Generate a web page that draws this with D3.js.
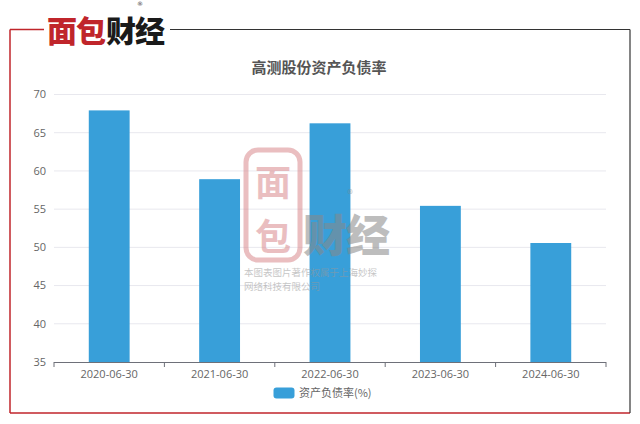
<!DOCTYPE html>
<html><head><meta charset="utf-8">
<script src="https://cdn.jsdelivr.net/npm/d3@7"></script>
<style>
html,body{margin:0;padding:0;background:#fff;}
svg{display:block;font-family:"Noto Sans CJK SC","Microsoft YaHei",sans-serif;}
</style></head>
<body>
<svg id="chart" width="640" height="424"></svg>
<script>
const categories = ["2020-06-30","2021-06-30","2022-06-30","2023-06-30","2024-06-30"];
const values = [67.92, 58.92, 66.23, 55.43, 50.57];
const yTicks = [35,40,45,50,55,60,65,70];
const title = "高测股份资产负债率";
const seriesName = "资产负债率(%)";

const svg = d3.select("#chart");
const margin = {left:54, right:606, top:94.5, bottom:362};

// frame
svg.append("line").attr("x1",10).attr("y1",29.5).attr("x2",10).attr("y2",413).attr("stroke","#c0252b").attr("stroke-width",1.5);
svg.append("line").attr("x1",10).attr("y1",413).attr("x2",630).attr("y2",413).attr("stroke","#c0252b").attr("stroke-width",1.5);
svg.append("line").attr("x1",630).attr("y1",29.5).attr("x2",630).attr("y2",413).attr("stroke","#333").attr("stroke-width",1.2);
svg.append("line").attr("x1",10).attr("y1",29.5).attr("x2",44).attr("y2",29.5).attr("stroke","#c0252b").attr("stroke-width",1.5);
svg.append("line").attr("x1",170).attr("y1",29.5).attr("x2",630).attr("y2",29.5).attr("stroke","#333").attr("stroke-width",1.2);

// logo
const logo = svg.append("g");
logo.append("text").attr("x",47).attr("y",42).attr("font-size",30).attr("font-weight",900)
  .attr("fill","#c0252b").attr("letter-spacing",-1).text("面包");
logo.append("text").attr("x",106).attr("y",42).attr("font-size",30).attr("font-weight",900)
  .attr("fill","#1a1a1a").attr("letter-spacing",-1).text("财经");
logo.append("text").attr("x",140).attr("y",5.8).attr("font-size",6).attr("font-family","'DejaVu Sans',sans-serif")
  .attr("fill","#333").attr("text-anchor","middle").text("®");

const x = d3.scaleBand().domain(categories).range([margin.left, margin.right]).paddingInner(0.63).paddingOuter(0.315);
const xTickScale = d3.scaleLinear().domain([0,categories.length]).range([margin.left, margin.right]);
const y = d3.scaleLinear().domain([35,70]).range([margin.bottom, margin.top]);

// gridlines
svg.append("g").selectAll("line").data(yTicks.filter(d=>d>35)).join("line")
  .attr("x1",margin.left).attr("x2",margin.right)
  .attr("y1",d=>y(d)).attr("y2",d=>y(d))
  .attr("stroke","#e8e8ee").attr("stroke-width",1);

// y labels
svg.append("g").selectAll("text").data(yTicks).join("text")
  .attr("x",46).attr("y",d=>y(d)).attr("dy","0.35em").attr("text-anchor","end")
  .attr("font-size",11).attr("fill","#666").attr("font-family","'Open Sans','Noto Sans',sans-serif").text(d=>d);

// bars
svg.append("g").selectAll("rect").data(values).join("rect")
  .attr("x",(d,i)=>x(categories[i])).attr("width",x.bandwidth())
  .attr("y",d=>y(d)).attr("height",d=>y(35)-y(d))
  .attr("fill","#389fd9");

// watermark
const wm = svg.append("g").attr("opacity",0.55);
wm.append("rect").attr("x",246).attr("y",150).attr("width",54).attr("height",110).attr("rx",12)
  .attr("fill","none").attr("stroke","#d98a8e").attr("stroke-width",5);
wm.append("text").attr("x",273).attr("y",196).attr("text-anchor","middle").attr("font-size",36).attr("font-weight",700).attr("fill","#d98a8e").text("面");
wm.append("text").attr("x",273).attr("y",250).attr("text-anchor","middle").attr("font-size",36).attr("font-weight",700).attr("fill","#d98a8e").text("包");
wm.append("text").attr("x",303).attr("y",252).attr("font-size",44).attr("font-weight",900).attr("fill","#888").attr("letter-spacing",-1).text("财经");
wm.append("text").attr("x",350).attr("y",198).attr("font-size",11).attr("text-anchor","middle").attr("fill","#888").text("®");
wm.append("text").attr("x",244).attr("y",276).attr("font-size",9.5).attr("fill","#999").text("本图表图片著作权属于上海妙探");
wm.append("text").attr("x",244).attr("y",290).attr("font-size",9.5).attr("fill","#999").text("网络科技有限公司");

// x axis
svg.append("line").attr("x1",margin.left).attr("x2",margin.right).attr("y1",margin.bottom+0.5).attr("y2",margin.bottom+0.5).attr("stroke","#6e7079").attr("stroke-width",1);
svg.append("g").selectAll("line").data(d3.range(categories.length+1)).join("line")
  .attr("x1",d=>xTickScale(d)).attr("x2",d=>xTickScale(d))
  .attr("y1",margin.bottom).attr("y2",margin.bottom+5).attr("stroke","#6e7079");
svg.append("g").selectAll("text").data(categories).join("text")
  .attr("x",d=>x(d)+x.bandwidth()/2).attr("y",374).attr("dy","0.35em").attr("text-anchor","middle")
  .attr("font-size",11).attr("fill","#666").attr("font-family","'Open Sans','Noto Sans',sans-serif").text(d=>d);

// title
svg.append("text").attr("x",319).attr("y",68).attr("dy","0.35em").attr("text-anchor","middle")
  .attr("font-size",15).attr("font-weight",700).attr("fill","#555").text(title);

// legend
svg.append("rect").attr("x",273.5).attr("y",387.5).attr("width",21).attr("height",11).attr("rx",3).attr("fill","#389fd9");
svg.append("text").attr("x",299).attr("y",393).attr("dy","0.35em").attr("font-size",11).attr("fill","#666").text(seriesName);
</script>
</body></html>
